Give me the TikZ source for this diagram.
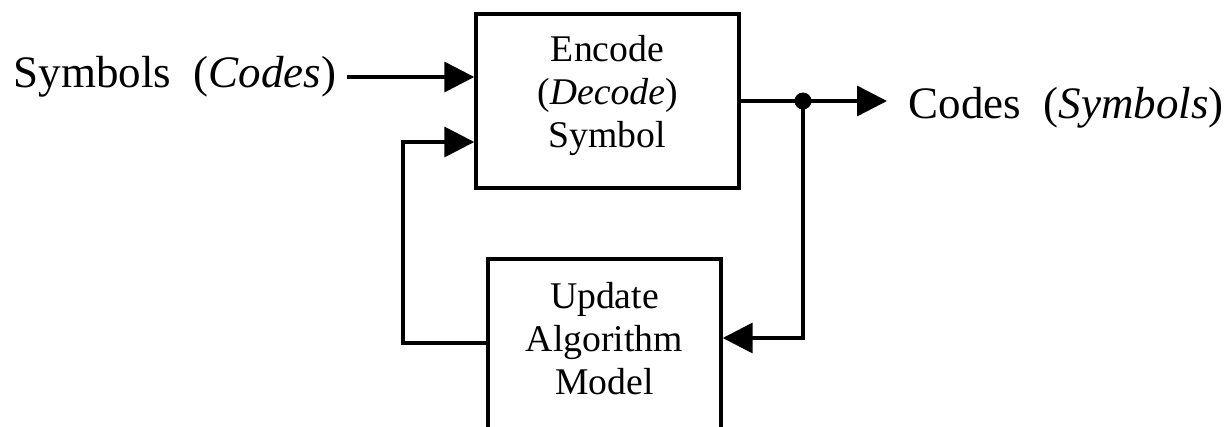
\documentclass[tikz,border=0pt]{standalone}
\usepackage{fontspec}
\setmainfont{Liberation Serif}
\usetikzlibrary{arrows.meta}
\begin{document}
\begin{tikzpicture}[x=1pt,y=-1pt,
  line width=3.4pt,
  arr/.style={-{Triangle[length=30pt,width=30pt]}},
  boxshape/.style={draw,line width=3.4pt,rectangle,inner sep=0pt},
  boxtext/.style={align=center,inner sep=0pt,font=\fontsize{37.7}{43}\selectfont},
  outtext/.style={anchor=base west,inner sep=0pt,font=\fontsize{45}{50}\selectfont}]
\useasboundingbox (0,0) rectangle (1225,426);
\clip (0,0) rectangle (1225,426);
% boxes
\node[boxshape,minimum width=263pt,minimum height=174pt] (enc) at (607.5,101) {};
\node[boxtext] (enct) at (607.5,95.5) {Encode\\(\textit{Decode})\\Symbol};
\node[boxshape,minimum width=233pt,minimum height=201pt] (upd) at (604.5,359.5) {};
\node[boxtext] (updt) at (604.5,338.5) {Update\\Algorithm\\Model};
% outer texts
\node[outtext] (sym) at (12,87) {Symbols\ \ (\textit{Codes})};
\node[outtext] (cod) at (907,118) {Codes\ \ (\textit{Symbols})};
% coordinates
\coordinate (inA) at (347,77);
\coordinate (dot) at (803,101);
\coordinate (outA) at (887,101);
\coordinate (rc) at (803,338);
\coordinate (lc1) at (403,343);
\coordinate (lc2) at (403,142);
% connectors
\draw[arr] (inA) -- (enc.west |- inA);
\draw (enc.east |- dot) -- (dot);
\draw[arr] (dot) -- (outA);
\fill (dot) circle (8.5pt);
\draw[arr] (dot) -- (rc) -- (upd.east |- rc);
\draw[arr] (upd.west |- lc1) -- (lc1) -- (lc2) -- (enc.west |- lc2);
\end{tikzpicture}
\end{document}
